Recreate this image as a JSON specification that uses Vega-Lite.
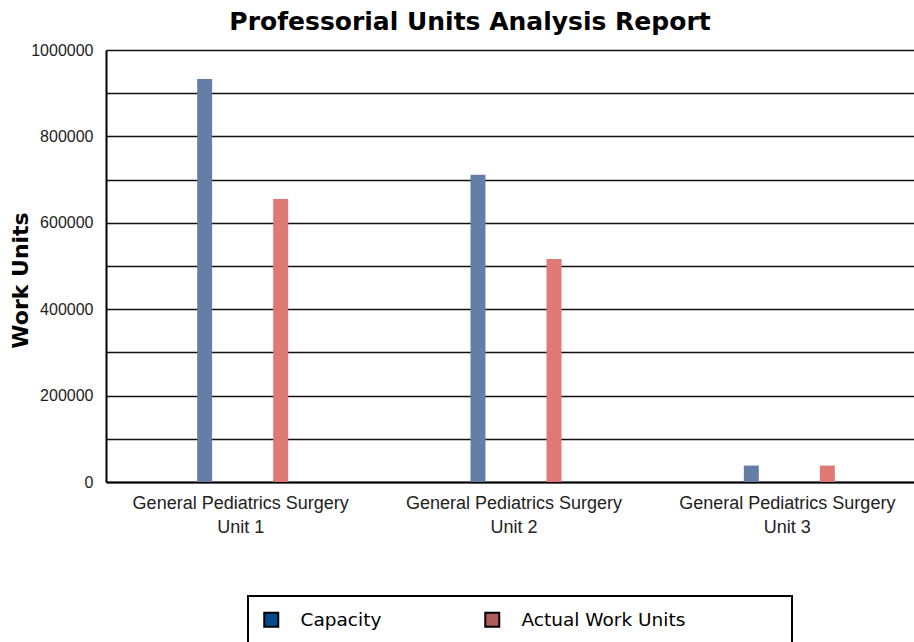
{
  "$schema": "https://vega.github.io/schema/vega-lite/v6.json",
  "width": 820,
  "height": 432,
  "autosize": {"type": "none"},
  "padding": {"left": 106, "top": 50, "right": 0, "bottom": 160},
  "background": "white",
  "title": {
    "text": "Professorial Units Analysis Report",
    "font": "DejaVu Sans",
    "fontSize": 25,
    "fontWeight": "bold",
    "color": "black",
    "anchor": "middle",
    "offset": 7,
    "dx": -46
  },
  "data": {
    "values": [
      {"unit": "General Pediatrics Surgery Unit 1", "series": "Capacity", "value": 933000},
      {"unit": "General Pediatrics Surgery Unit 1", "series": "Actual Work Units", "value": 655000},
      {"unit": "General Pediatrics Surgery Unit 2", "series": "Capacity", "value": 711000},
      {"unit": "General Pediatrics Surgery Unit 2", "series": "Actual Work Units", "value": 516000},
      {"unit": "General Pediatrics Surgery Unit 3", "series": "Capacity", "value": 38000},
      {"unit": "General Pediatrics Surgery Unit 3", "series": "Actual Work Units", "value": 38000}
    ]
  },
  "encoding": {
    "x": {
      "field": "unit",
      "type": "nominal",
      "sort": null,
      "scale": {"paddingInner": 0.667, "paddingOuter": 0.3335},
      "axis": {
        "title": null,
        "domain": true,
        "domainColor": "black",
        "domainWidth": 2,
        "ticks": false,
        "tickSize": 0,
        "grid": false,
        "labelAngle": 0,
        "labelFont": "Liberation Sans",
        "labelFontSize": 18,
        "labelColor": "#222222",
        "labelPadding": 12,
        "labelLineHeight": 24,
        "labelLimit": 0,
        "labelOffset": -2,
        "labelExpr": "[slice(datum.label, 0, indexof(datum.label, ' Unit')), slice(datum.label, indexof(datum.label, 'Unit'))]"
      }
    },
    "xOffset": {
      "field": "series",
      "type": "nominal",
      "sort": ["Capacity", "Actual Work Units"],
      "scale": {"paddingInner": 0.803, "paddingOuter": 0}
    },
    "y": {
      "field": "value",
      "type": "quantitative",
      "scale": {"domain": [0, 1000000], "nice": false},
      "axis": {
        "values": [0, 100000, 200000, 300000, 400000, 500000, 600000, 700000, 800000, 900000, 1000000],
        "format": "d",
        "labelExpr": "datum.value % 200000 === 0 ? datum.label : ''",
        "grid": true,
        "gridColor": "#111111",
        "gridWidth": 1.6,
        "domain": true,
        "domainColor": "black",
        "domainWidth": 2,
        "ticks": false,
        "tickSize": 0,
        "labelFont": "Liberation Sans",
        "labelFontSize": 16,
        "labelColor": "#222222",
        "labelPadding": 13,
        "title": "Work Units",
        "titleFont": "DejaVu Sans",
        "titleFontSize": 22,
        "titleFontWeight": "bold",
        "titleColor": "black",
        "titlePadding": -2,
        "titleY": 230
      }
    }
  },
  "layer": [
    {
      "transform": [{"filter": "false"}],
      "mark": {"type": "bar"},
      "encoding": {
        "color": {
          "field": "series",
          "type": "nominal",
          "scale": {"domain": ["Capacity", "Actual Work Units"], "range": ["#004a8c", "#b05a5a"]},
          "legend": {
            "title": "\u2800",
            "titleOrient": "right",
            "titleFontSize": 1,
            "titlePadding": 92,
            "orient": "none",
            "legendX": 142,
            "legendY": 546,
            "direction": "horizontal",
            "columns": 2,
            "symbolType": "square",
            "symbolSize": 196,
            "symbolStrokeColor": "black",
            "symbolStrokeWidth": 2,
            "symbolOpacity": 1,
            "labelFont": "DejaVu Sans",
            "labelFontSize": 18.5,
            "labelColor": "black",
            "labelOffset": 20,
            "labelLimit": 0,
            "columnPadding": 99,
            "padding": 14,
            "strokeColor": "black",
            "fillColor": "white"
          }
        }
      }
    },
    {
      "mark": {"type": "bar"},
      "encoding": {
        "fill": {
          "condition": {"test": "datum.series === 'Capacity'", "value": "#647ea8"},
          "value": "#e07873"
        }
      }
    }
  ],
  "config": {"view": {"stroke": null}, "legend": {"strokeWidth": 2}}
}
